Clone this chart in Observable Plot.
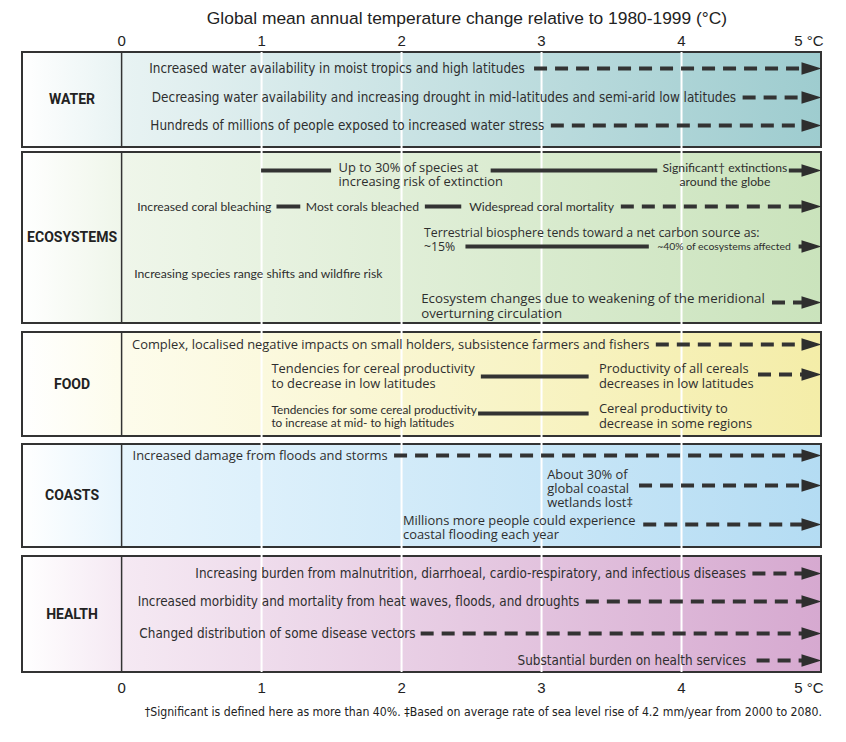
<!DOCTYPE html>
<html>
<head>
<meta charset="utf-8">
<script src="https://cdn.jsdelivr.net/npm/d3@7"></script>
<script src="https://cdn.jsdelivr.net/npm/@observablehq/plot@0.6"></script>
<style>
  html, body { margin: 0; padding: 0; background: #fff; }
  body { width: 846px; overflow: hidden; }
  #title { width: 846px; box-sizing: border-box; padding-left: 88px; height: 30px; line-height: 36px; text-align: center;
           font-family: "Liberation Sans", Arial, sans-serif; font-size: 17.4px; color: #222; white-space: nowrap; }
  #chart svg { display: block; overflow: visible; }
  #note { width: 846px; box-sizing: border-box; padding-right: 24px; height: 24px; line-height: 24px; text-align: right;
          font-family: "DejaVu Sans Condensed", sans-serif; font-size: 12.2px; color: #222; white-space: nowrap; }
</style>
</head>
<body>
<div id="title"></div>
<div id="chart"></div>
<div id="note"></div>
<script>
// ---------- data ----------
const title = "Global mean annual temperature change relative to 1980-1999 (°C)";
const footnote = "†Significant is defined here as more than 40%. ‡Based on average rate of sea level rise of 4.2 mm/year from 2000 to 2080.";
const tickValues = [0, 1, 2, 3, 4];
const lastTick = 5;
const lastTickLabel = "5 °C";

const sectors = ["WATER", "ECOSYSTEMS", "FOOD", "COASTS", "HEALTH"];
// extent of each sector box in diagram rows (0 = top of the first box)
const sectorTop = [0, 100, 280, 392, 504];
const sectorBottom = [95, 271, 384, 495, 620];
const sectorShades = [
  ["#e8f3f3", "#9ecccf"],
  ["#eff6ea", "#cae3bc"],
  ["#fdfcec", "#f4eda8"],
  ["#e7f5fd", "#b4dcf3"],
  ["#f5e9f3", "#d6a9d0"]
];

// impact statements: row, temperature (°C) where the text sits, alignment, typeface, text
const statements = [
  {row: 16, at: 2.88, align: "end", face: "cond", text: "Increased water availability in moist tropics and high latitudes"},
  {row: 45, at: 4.39, align: "end", face: "cond", text: "Decreasing water availability and increasing drought in mid-latitudes and semi-arid low latitudes"},
  {row: 73, at: 3.02, align: "end", face: "cond", text: "Hundreds of millions of people exposed to increased water stress"},

  {row: 122, at: 1.55, align: "start", face: "wide", text: "Up to 30% of species at\nincreasing risk of extinction"},
  {row: 122, at: 4.31, align: "middle", face: "reg", text: "Significant† extinctions\naround the globe"},
  {row: 154, at: 1.07, align: "end", face: "reg", text: "Increased coral bleaching"},
  {row: 154, at: 1.72, align: "middle", face: "reg", text: "Most corals bleached"},
  {row: 154, at: 3.00, align: "middle", face: "reg", text: "Widespread coral mortality"},
  {row: 180, at: 2.16, align: "start", face: "wideS", text: "Terrestrial biosphere tends toward a net carbon source as:"},
  {row: 194, at: 2.16, align: "start", face: "wideS", text: "~15%"},
  {row: 194, at: 4.78, align: "end", face: "regXS", text: "~40% of ecosystems affected"},
  {row: 221, at: 0.09, align: "start", face: "reg", text: "Increasing species range shifts and wildfire risk"},
  {row: 253.5, at: 2.14, align: "start", face: "wideL", text: "Ecosystem changes due to weakening of the meridional\noverturning circulation"},

  {row: 292, at: 3.77, align: "end", face: "wide", text: "Complex, localised negative impacts on small holders, subsistence farmers and fishers"},
  {row: 323.5, at: 1.07, align: "start", face: "wide", text: "Tendencies for cereal productivity\nto decrease in low latitudes"},
  {row: 323.5, at: 3.41, align: "start", face: "wide", text: "Productivity of all cereals\ndecreases in low latitudes"},
  {row: 363.5, at: 1.07, align: "start", face: "regS", text: "Tendencies for some cereal productivity\nto increase at mid- to high latitudes"},
  {row: 363.5, at: 3.41, align: "start", face: "wide", text: "Cereal productivity to\ndecrease in some regions"},

  {row: 403, at: 1.90, align: "end", face: "wide", text: "Increased damage from floods and storms"},
  {row: 436, at: 3.04, align: "start", face: "wide", text: "About 30% of\nglobal coastal\nwetlands lost‡"},
  {row: 475, at: 2.01, align: "start", face: "wide", text: "Millions more people could experience\ncoastal flooding each year"},

  {row: 521, at: 4.46, align: "end", face: "cond", text: "Increasing burden from malnutrition, diarrhoeal, cardio-respiratory, and infectious diseases"},
  {row: 549, at: 3.27, align: "end", face: "cond", text: "Increased morbidity and mortality from heat waves, floods, and droughts"},
  {row: 581, at: 2.10, align: "end", face: "cond", text: "Changed distribution of some disease vectors"},
  {row: 608, at: 4.46, align: "end", face: "cond", text: "Substantial burden on health services"}
];

// trend lines: row, start and end temperature (°C), kind of line
const trends = [
  {row: 16, from: 2.95, to: 5, kind: "dashed"},
  {row: 45, from: 4.44, to: 5, kind: "dashed"},
  {row: 73, from: 3.07, to: 5, kind: "dashed"},
  {row: 118, from: 1.0, to: 1.5, kind: "solid"},
  {row: 118, from: 2.64, to: 3.83, kind: "solid"},
  {row: 118, from: 4.77, to: 5, kind: "solid"},
  {row: 154, from: 1.11, to: 1.28, kind: "solid"},
  {row: 154, from: 2.17, to: 2.43, kind: "solid"},
  {row: 154, from: 3.57, to: 5, kind: "dashed"},
  {row: 194, from: 2.46, to: 3.77, kind: "solid"},
  {row: 194, from: 4.84, to: 5, kind: "solid"},
  {row: 250, from: 4.65, to: 5, kind: "dashed"},
  {row: 292, from: 3.82, to: 5, kind: "dashed"},
  {row: 324, from: 2.57, to: 3.34, kind: "solid"},
  {row: 322, from: 4.55, to: 5, kind: "dashed"},
  {row: 361, from: 2.55, to: 3.34, kind: "solid"},
  {row: 403, from: 1.95, to: 5, kind: "dashed"},
  {row: 433, from: 3.70, to: 5, kind: "dashed"},
  {row: 472, from: 3.73, to: 5, kind: "dashed"},
  {row: 521, from: 4.51, to: 5, kind: "dashed"},
  {row: 549, from: 3.32, to: 5, kind: "dashed"},
  {row: 581, from: 2.14, to: 5, kind: "dashed"},
  {row: 608, from: 4.54, to: 5, kind: "dashed"}
];

// ---------- drawing ----------
const labelColumnStart = -0.708; // left edge of the sector-name column, in °C units
const ink = "#2e2e2e";
const faces = {
  cond: {fontFamily: "'DejaVu Sans Condensed', sans-serif", fontSize: 13.4},
  reg: {fontFamily: "Lato, sans-serif", fontSize: 12.2},
  regS: {fontFamily: "Lato, sans-serif", fontSize: 11.8},
  regXS: {fontFamily: "Lato, sans-serif", fontSize: 10.4},
  wide: {fontFamily: "'Open Sans', sans-serif", fontSize: 12.9},
  wideS: {fontFamily: "'Open Sans', sans-serif", fontSize: 12.3},
  wideL: {fontFamily: "'Open Sans', sans-serif", fontSize: 13.3}
};

document.getElementById("title").textContent = title;
document.getElementById("note").textContent = footnote;

const boxes = sectors.map((name, i) => ({name, i, top: sectorTop[i], bottom: sectorBottom[i]}));

const gradients = () => {
  const defs = d3.create("svg:defs");
  boxes.forEach(b => {
    const [c0, c1] = sectorShades[b.i];
    const g = defs.append("linearGradient").attr("id", "ipcc-main-" + b.i);
    g.append("stop").attr("offset", 0).attr("stop-color", c0);
    g.append("stop").attr("offset", 1).attr("stop-color", c1);
    const h = defs.append("linearGradient").attr("id", "ipcc-lab-" + b.i);
    h.append("stop").attr("offset", 0).attr("stop-color", "#ffffff");
    h.append("stop").attr("offset", 1).attr("stop-color", c0);
  });
  return defs.node();
};

const arrowHead = {
  draw(ctx, size) {
    const r = Math.sqrt(size / Math.PI);
    ctx.moveTo(0, 0);
    ctx.lineTo(-2 * r, -0.62 * r);
    ctx.lineTo(-2 * r, 0.62 * r);
    ctx.closePath();
  }
};
const shaftEnd = d => (d.to === lastTick ? d.to - 0.07 : d.to);

const textMarks = [];
for (const face of Object.keys(faces)) {
  for (const align of ["start", "middle", "end"]) {
    const subset = statements.filter(d => d.face === face && d.align === align);
    if (!subset.length) continue;
    textMarks.push(Plot.text(subset, {
      x: "at", y: "row", text: "text", textAnchor: align, lineAnchor: "middle",
      lineHeight: 1.1, fill: ink, ...faces[face]
    }));
  }
}

const axisFont = {fontFamily: "'Liberation Sans', Arial, sans-serif", fontSize: 15};

const chart = Plot.plot({
  width: 846,
  height: 670,
  marginTop: 22,
  marginBottom: 28,
  marginLeft: 22,
  marginRight: 25,
  style: {background: "transparent", color: "#222"},
  x: {domain: [labelColumnStart, lastTick], axis: null},
  y: {domain: [0, 620], reverse: true, axis: null},
  marks: [
    gradients,
    ...boxes.map(b => Plot.rect([b], {x1: 0, x2: lastTick, y1: "top", y2: "bottom", fill: `url(#ipcc-main-${b.i})`})),
    ...boxes.map(b => Plot.rect([b], {x1: labelColumnStart, x2: 0, y1: "top", y2: "bottom", fill: `url(#ipcc-lab-${b.i})`})),
    Plot.rect(boxes, {x1: labelColumnStart, x2: lastTick, y1: "top", y2: "bottom", fill: "none", stroke: "#333", strokeWidth: 2}),
    Plot.ruleX(boxes, {x: 0, y1: "top", y2: "bottom", stroke: "#333", strokeWidth: 1.5}),
    Plot.ruleX([1, 2, 3, 4], {y1: 0, y2: 620, stroke: "#fff", strokeWidth: 2}),
    Plot.text(boxes, {x: labelColumnStart / 2, y: d => (d.top + d.bottom) / 2, text: "name", fontWeight: "bold",
      fontFamily: "Roboto, 'Liberation Sans', sans-serif", fontSize: 14, fill: "#222"}),
    Plot.ruleY(trends.filter(d => d.kind === "solid"), {y: "row", x1: "from", x2: shaftEnd, stroke: "#333", strokeWidth: 4}),
    Plot.ruleY(trends.filter(d => d.kind === "dashed"), {y: "row", x1: "from", x2: shaftEnd, stroke: "#333", strokeWidth: 4, strokeDasharray: "13,8"}),
    Plot.dot(trends.filter(d => d.to === lastTick), {x: "to", y: "row", symbol: arrowHead, r: 10, fill: "#2e2e2e", stroke: "none"}),
    ...textMarks,
    Plot.axisX({anchor: "top", ticks: tickValues, tickFormat: d => String(d), tickSize: 0, tickPadding: 7, ...axisFont}),
    Plot.axisX({anchor: "bottom", ticks: tickValues, tickFormat: d => String(d), tickSize: 0, tickPadding: 10, ...axisFont}),
    Plot.text([lastTick], {x: d => d, frameAnchor: "top", lineAnchor: "bottom", dy: -7, text: () => lastTickLabel, textAnchor: "end", dx: 2, ...axisFont}),
    Plot.text([lastTick], {x: d => d, frameAnchor: "bottom", lineAnchor: "top", dy: 10, text: () => lastTickLabel, textAnchor: "end", dx: 2, ...axisFont})
  ]
});
document.getElementById("chart").appendChild(chart);
</script>
</body>
</html>
